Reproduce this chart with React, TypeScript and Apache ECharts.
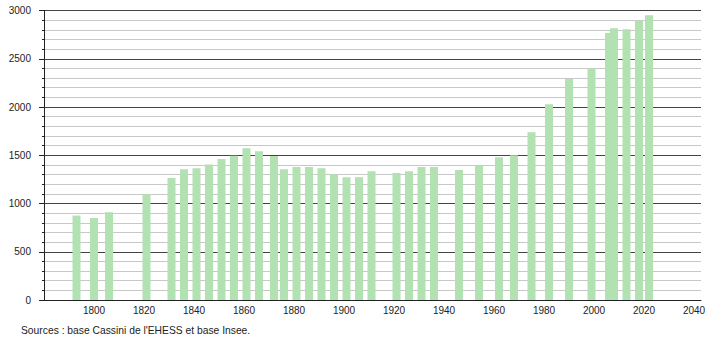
import React, { useEffect, useRef } from "react";
import * as echarts from "echarts";

const years = [
  1793, 1800, 1806, 1821, 1831, 1836, 1841, 1846, 1851, 1856, 1861, 1866, 1872,
  1876, 1881, 1886, 1891, 1896, 1901, 1906, 1911, 1921, 1926, 1931, 1936, 1946,
  1954, 1962, 1968, 1975, 1982, 1990, 1999, 2006, 2008, 2013, 2018, 2022,
];
const population = [
  875, 850, 910, 1095, 1263, 1356, 1366, 1405, 1460, 1495, 1573, 1542, 1491,
  1356, 1377, 1377, 1366, 1304, 1273, 1273, 1335, 1315, 1335, 1377, 1377, 1346,
  1390, 1480, 1501, 1739, 2029, 2291, 2398, 2767, 2816, 2805, 2895, 2952,
];
const xTickLabels = [1800, 1820, 1840, 1860, 1880, 1900, 1920, 1940, 1960, 1980, 2000, 2020, 2040];
const sourceText = "Sources : base Cassini de l'EHESS et base Insee.";

const FONT = "'Liberation Sans', Arial, sans-serif";

export default function App() {
  const ref = useRef<HTMLDivElement>(null);
  useEffect(() => {
    if (!ref.current) return;
    const chart = echarts.init(ref.current, null, { renderer: "svg" });
    chart.setOption({
      animation: false,
      backgroundColor: "#ffffff",
      textStyle: { fontFamily: FONT },
      grid: { left: 44, right: 9, top: 10.5, bottom: 40, containLabel: false },
      xAxis: {
        type: "value",
        min: 1780,
        max: 2042.8,
        interval: 20,
        axisLine: { show: true, lineStyle: { color: "#222", width: 1 } },
        axisTick: { show: false },
        splitLine: { show: false },
        axisLabel: {
          margin: 5,
          fontSize: 10,
          color: "#222",
          fontFamily: FONT,
          showMinLabel: true,
          showMaxLabel: true,
          formatter: (v: number) => (xTickLabels.includes(Math.round(v * 1000) / 1000) ? String(v) : ""),
        },
      },
      yAxis: {
        type: "value",
        min: 0,
        max: 3000,
        interval: 500,
        axisLine: { show: true, lineStyle: { color: "#222", width: 1 } },
        axisTick: { show: true, length: 5, lineStyle: { color: "#222" } },
        minorTick: { show: true, splitNumber: 5, length: 2, lineStyle: { color: "#222" } },
        splitLine: { show: true, lineStyle: { color: "#444", width: 1 } },
        minorSplitLine: { show: true, lineStyle: { color: "#c8c8c8", width: 1 } },
        axisLabel: {
          margin: 13,
          fontSize: 10,
          color: "#222",
          fontFamily: FONT,
          formatter: (v: number) => String(v),
        },
      },
      series: [
        {
          type: "bar",
          data: years.map((y, i) => [y, population[i]]),
          barWidth: 8,
          itemStyle: { color: "#b2e2b2" },
          z: 5,
        },
      ],
      graphic: [
        {
          type: "text",
          x: 21,
          y: 330,
          style: {
            text: sourceText,
            fontSize: 10.3,
            fontFamily: FONT,
            fill: "#222",
            textVerticalAlign: "middle",
          },
        },
      ],
    });
    return () => chart.dispose();
  }, []);
  return (
    <div
      ref={ref}
      style={{ position: "fixed", left: 0, top: 0, width: 710, height: 340 }}
    />
  );
}
